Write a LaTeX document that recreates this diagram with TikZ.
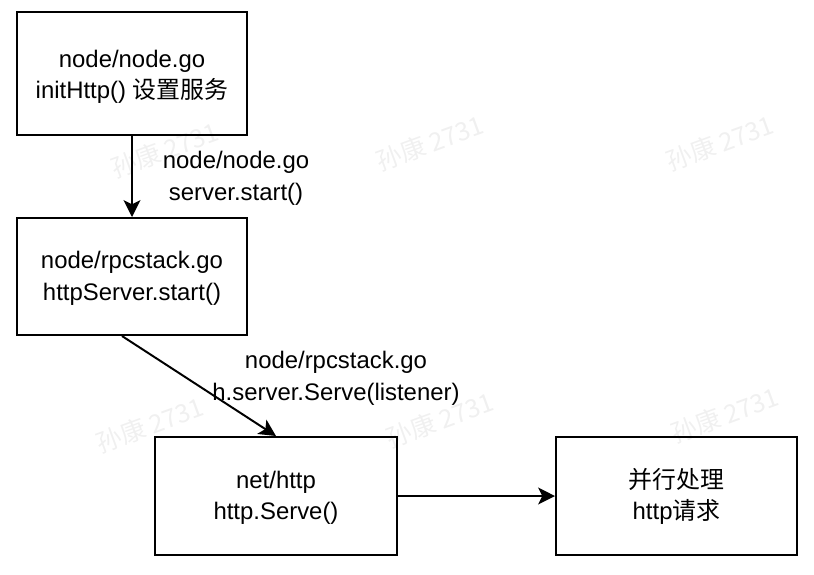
\documentclass[tikz,border=0pt]{standalone}
\usepackage{fontspec}
\setmainfont{Liberation Sans}
\newfontfamily\cjk{Noto Sans CJK SC}
\usetikzlibrary{arrows.meta}

\begin{document}
\begin{tikzpicture}[x=0.025cm,y=-0.025cm,
  font=\fontsize{17}{22.5}\selectfont,
  box/.style={draw,line width=1.4pt,align=center,inner sep=0pt},
  flow/.style={line width=1.4pt,-{Stealth[length=12pt,width=12pt,inset=3pt]}},
  lbl/.style={align=center,inner sep=1pt},
  wmark/.style={text=black!6,rotate=20,font=\cjk\fontsize{18}{18}\selectfont}]

% Canvas: 814 x 574 px, 1px = 0.025cm, y grows downwards
\useasboundingbox (0,0) rectangle (814,574);

% -- faint watermarks --------------------------------------------------------
\foreach \i/\x/\y in {1/165/150, 2/430/143, 3/720/143, 4/150/425, 5/440/420, 6/725/415}
  \node[wmark] (wm\i) at (\x,\y) {孙康 2731};

% -- boxes -------------------------------------------------------------------
\node[box,minimum width=5.75cm,minimum height=3.075cm] (b1) at (132,73.5)
  {\rule{0pt}{17pt}node/node.go\\initHttp() {\cjk 设置服务}};
\node[box,minimum width=5.75cm,minimum height=2.925cm] (b2) at (132,276.5)
  {\rule{0pt}{15pt}node/rpcstack.go\\httpServer.start()};
\node[box,minimum width=6.05cm,minimum height=2.95cm] (b3) at (276,496)
  {\rule{0pt}{15pt}net/http\\http.Serve()};
\node[box,minimum width=6.025cm,minimum height=2.95cm] (b4) at (676.5,496)
  {\rule{0pt}{15pt}{\cjk 并行处理}\\http{\cjk 请求}};

% -- connectors --------------------------------------------------------------
\draw[flow] (b1.south) -- (b2.north);
\draw[flow] ([xshift=-0.25cm]b2.south) -- (b3.north);
\draw[flow] (b3.east) -- (b4.west);

% -- connector labels --------------------------------------------------------
\node[lbl] (l1) at (236,178) {node/node.go\\server.start()};
\node[lbl] (l2) at (336,378) {node/rpcstack.go\\h.server.Serve(listener)};

\end{tikzpicture}
\end{document}
